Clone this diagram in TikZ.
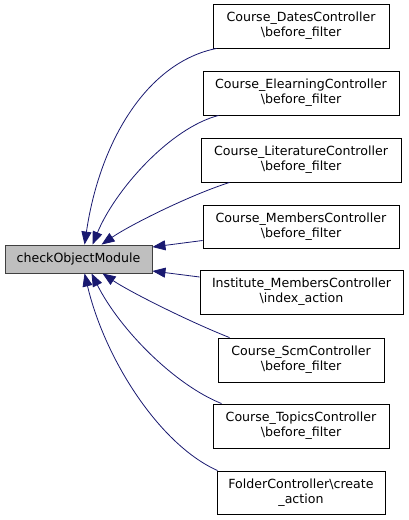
\documentclass[tikz,border=0pt]{standalone}
\usepackage{fontspec}
\setmainfont{DejaVu Sans}
\usetikzlibrary{arrows.meta}
\definecolor{edgeblue}{HTML}{191970}
\definecolor{mainfill}{HTML}{BFBFBF}
\definecolor{mainborder}{HTML}{404040}
\tikzset{
  box/.style={draw=black, line width=0.9pt, fill=white, inner sep=0pt, align=center,
    minimum height=44pt, font=\fontsize{12.6}{15}\selectfont},
  mainbox/.style={box, draw=mainborder, fill=mainfill, minimum height=28pt, minimum width=147pt},
  edge/.style={draw=edgeblue, line width=0.8pt, -{Triangle[length=13pt,width=10pt]}}
}
\begin{document}
\begin{tikzpicture}[x=1pt,y=-1pt]
\useasboundingbox (0,0) rectangle (408,520);
\node[mainbox] (main) at (78.5,259) {checkObjectModule};
\node[box, minimum width=176pt] (dates) at (301,26) {Course\_DatesController\\\textbackslash before\_filter};
\node[box, minimum width=196pt] (elearn) at (301,93) {Course\_ElearningController\\\textbackslash before\_filter};
\node[box, minimum width=200pt] (lit) at (301,160) {Course\_LiteratureController\\\textbackslash before\_filter};
\node[box, minimum width=196pt, minimum height=43pt] (members) at (301,226.5) {Course\_MembersController\\\textbackslash before\_filter};
\node[box, minimum width=203pt] (inst) at (301.5,292) {Institute\_MembersController\\\textbackslash index\_action};
\node[box, minimum width=166pt] (scm) at (301,360) {Course\_ScmController\\\textbackslash before\_filter};
\node[box, minimum width=176pt] (topics) at (301,426) {Course\_TopicsController\\\textbackslash before\_filter};
\node[box, minimum width=168pt, minimum height=43pt] (folder) at (301,492.5) {FolderController\textbackslash create\\\_action};

\draw[edge] ([xshift=4pt]dates.south west) .. controls (148,62) and (100,140) .. ([xshift=80pt]main.north west);
\draw[edge] ([xshift=16pt]elearn.south west) .. controls (170,128) and (115,190) .. ([xshift=88pt]main.north west);
\draw[edge] ([xshift=29pt]lit.south west) .. controls (190,195) and (130,225) .. ([xshift=97pt]main.north west);
\draw[edge] ([yshift=-14pt]members.west) -- ([yshift=12pt]main.east);
\draw[edge] ([yshift=15pt]inst.west) -- ([yshift=-12pt]main.east);
\draw[edge] ([xshift=12pt]scm.north west) .. controls (190,322) and (130,292) .. ([xshift=98pt]main.south west);
\draw[edge] ([xshift=9pt]topics.north west) .. controls (175,385) and (120,330) .. ([xshift=87pt]main.south west);
\draw[edge] ([xshift=1pt]folder.north west) .. controls (160,445) and (105,360) .. ([xshift=80pt]main.south west);
\end{tikzpicture}
\end{document}
